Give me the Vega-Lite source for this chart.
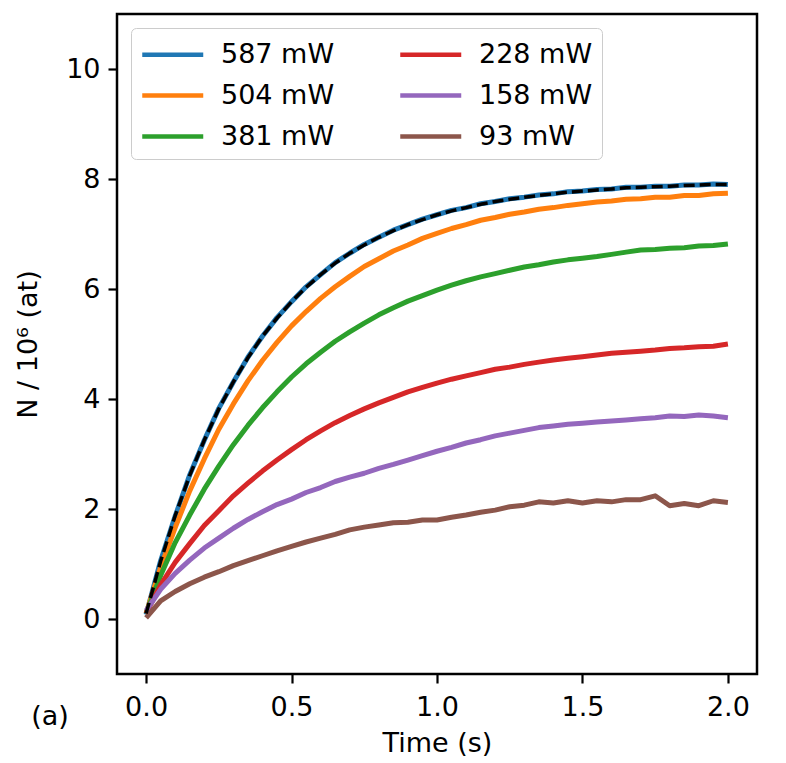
{
  "$schema": "https://vega.github.io/schema/vega-lite/v6.json",
  "width": 640,
  "height": 660,
  "autosize": {"type": "none"},
  "padding": {"left": 117, "top": 14, "right": 29, "bottom": 89},
  "background": "white",
  "config": {
    "font": "DejaVu Sans",
    "view": {"stroke": "black", "strokeWidth": 2.5},
    "axis": {
      "grid": false,
      "domain": false,
      "tickColor": "black",
      "tickWidth": 2.2,
      "tickSize": 9,
      "labelFont": "DejaVu Sans",
      "labelFontSize": 27,
      "labelColor": "black",
      "titleFont": "DejaVu Sans",
      "titleFontSize": 27,
      "titleFontWeight": "normal",
      "titleColor": "black"
    }
  },
  "datasets": {
    "curves": [
      {"t": 0.0, "587 mW": 0.08, "504 mW": 0.10, "381 mW": 0.10, "228 mW": 0.10, "158 mW": 0.15, "93 mW": 0.02, "fit": 0.10},
      {"t": 0.05, "587 mW": 1.06, "504 mW": 0.94, "381 mW": 0.79, "228 mW": 0.62, "158 mW": 0.54, "93 mW": 0.33, "fit": 1.05},
      {"t": 0.1, "587 mW": 1.87, "504 mW": 1.66, "381 mW": 1.39, "228 mW": 1.03, "158 mW": 0.83, "93 mW": 0.50, "fit": 1.88},
      {"t": 0.15, "587 mW": 2.62, "504 mW": 2.33, "381 mW": 1.89, "228 mW": 1.37, "158 mW": 1.07, "93 mW": 0.64, "fit": 2.61},
      {"t": 0.2, "587 mW": 3.25, "504 mW": 2.91, "381 mW": 2.36, "228 mW": 1.70, "158 mW": 1.29, "93 mW": 0.76, "fit": 3.25},
      {"t": 0.25, "587 mW": 3.83, "504 mW": 3.45, "381 mW": 2.78, "228 mW": 1.97, "158 mW": 1.47, "93 mW": 0.86, "fit": 3.82},
      {"t": 0.3, "587 mW": 4.31, "504 mW": 3.91, "381 mW": 3.17, "228 mW": 2.24, "158 mW": 1.65, "93 mW": 0.97, "fit": 4.31},
      {"t": 0.35, "587 mW": 4.76, "504 mW": 4.33, "381 mW": 3.52, "228 mW": 2.47, "158 mW": 1.81, "93 mW": 1.06, "fit": 4.75},
      {"t": 0.4, "587 mW": 5.14, "504 mW": 4.70, "381 mW": 3.84, "228 mW": 2.69, "158 mW": 1.95, "93 mW": 1.15, "fit": 5.14},
      {"t": 0.45, "587 mW": 5.48, "504 mW": 5.03, "381 mW": 4.13, "228 mW": 2.89, "158 mW": 2.08, "93 mW": 1.24, "fit": 5.47},
      {"t": 0.5, "587 mW": 5.77, "504 mW": 5.33, "381 mW": 4.40, "228 mW": 3.08, "158 mW": 2.18, "93 mW": 1.32, "fit": 5.77},
      {"t": 0.55, "587 mW": 6.04, "504 mW": 5.59, "381 mW": 4.64, "228 mW": 3.26, "158 mW": 2.30, "93 mW": 1.40, "fit": 6.03},
      {"t": 0.6, "587 mW": 6.26, "504 mW": 5.83, "381 mW": 4.85, "228 mW": 3.42, "158 mW": 2.39, "93 mW": 1.47, "fit": 6.26},
      {"t": 0.65, "587 mW": 6.48, "504 mW": 6.04, "381 mW": 5.05, "228 mW": 3.57, "158 mW": 2.50, "93 mW": 1.54, "fit": 6.47},
      {"t": 0.7, "587 mW": 6.65, "504 mW": 6.23, "381 mW": 5.22, "228 mW": 3.70, "158 mW": 2.58, "93 mW": 1.62, "fit": 6.65},
      {"t": 0.75, "587 mW": 6.81, "504 mW": 6.41, "381 mW": 5.38, "228 mW": 3.82, "158 mW": 2.65, "93 mW": 1.67, "fit": 6.80},
      {"t": 0.8, "587 mW": 6.94, "504 mW": 6.55, "381 mW": 5.53, "228 mW": 3.93, "158 mW": 2.74, "93 mW": 1.71, "fit": 6.94},
      {"t": 0.85, "587 mW": 7.07, "504 mW": 6.69, "381 mW": 5.66, "228 mW": 4.03, "158 mW": 2.81, "93 mW": 1.75, "fit": 7.06},
      {"t": 0.9, "587 mW": 7.17, "504 mW": 6.80, "381 mW": 5.78, "228 mW": 4.13, "158 mW": 2.89, "93 mW": 1.76, "fit": 7.17},
      {"t": 0.95, "587 mW": 7.27, "504 mW": 6.92, "381 mW": 5.88, "228 mW": 4.21, "158 mW": 2.97, "93 mW": 1.80, "fit": 7.26},
      {"t": 1.0, "587 mW": 7.35, "504 mW": 7.01, "381 mW": 5.98, "228 mW": 4.29, "158 mW": 3.05, "93 mW": 1.80, "fit": 7.35},
      {"t": 1.05, "587 mW": 7.43, "504 mW": 7.10, "381 mW": 6.07, "228 mW": 4.36, "158 mW": 3.12, "93 mW": 1.85, "fit": 7.42},
      {"t": 1.1, "587 mW": 7.48, "504 mW": 7.17, "381 mW": 6.15, "228 mW": 4.42, "158 mW": 3.20, "93 mW": 1.89, "fit": 7.48},
      {"t": 1.15, "587 mW": 7.55, "504 mW": 7.25, "381 mW": 6.22, "228 mW": 4.48, "158 mW": 3.26, "93 mW": 1.94, "fit": 7.54},
      {"t": 1.2, "587 mW": 7.59, "504 mW": 7.30, "381 mW": 6.28, "228 mW": 4.54, "158 mW": 3.33, "93 mW": 1.98, "fit": 7.59},
      {"t": 1.25, "587 mW": 7.64, "504 mW": 7.36, "381 mW": 6.34, "228 mW": 4.58, "158 mW": 3.38, "93 mW": 2.04, "fit": 7.63},
      {"t": 1.3, "587 mW": 7.67, "504 mW": 7.40, "381 mW": 6.40, "228 mW": 4.63, "158 mW": 3.43, "93 mW": 2.07, "fit": 7.67},
      {"t": 1.35, "587 mW": 7.71, "504 mW": 7.45, "381 mW": 6.44, "228 mW": 4.67, "158 mW": 3.48, "93 mW": 2.13, "fit": 7.70},
      {"t": 1.4, "587 mW": 7.73, "504 mW": 7.48, "381 mW": 6.49, "228 mW": 4.71, "158 mW": 3.51, "93 mW": 2.11, "fit": 7.73},
      {"t": 1.45, "587 mW": 7.77, "504 mW": 7.52, "381 mW": 6.53, "228 mW": 4.74, "158 mW": 3.54, "93 mW": 2.15, "fit": 7.76},
      {"t": 1.5, "587 mW": 7.78, "504 mW": 7.55, "381 mW": 6.56, "228 mW": 4.77, "158 mW": 3.56, "93 mW": 2.11, "fit": 7.78},
      {"t": 1.55, "587 mW": 7.81, "504 mW": 7.58, "381 mW": 6.59, "228 mW": 4.80, "158 mW": 3.58, "93 mW": 2.15, "fit": 7.80},
      {"t": 1.6, "587 mW": 7.82, "504 mW": 7.60, "381 mW": 6.63, "228 mW": 4.83, "158 mW": 3.60, "93 mW": 2.13, "fit": 7.82},
      {"t": 1.65, "587 mW": 7.85, "504 mW": 7.63, "381 mW": 6.67, "228 mW": 4.85, "158 mW": 3.62, "93 mW": 2.17, "fit": 7.84},
      {"t": 1.7, "587 mW": 7.85, "504 mW": 7.64, "381 mW": 6.71, "228 mW": 4.87, "158 mW": 3.64, "93 mW": 2.17, "fit": 7.85},
      {"t": 1.75, "587 mW": 7.87, "504 mW": 7.67, "381 mW": 6.72, "228 mW": 4.89, "158 mW": 3.66, "93 mW": 2.24, "fit": 7.86},
      {"t": 1.8, "587 mW": 7.87, "504 mW": 7.67, "381 mW": 6.74, "228 mW": 4.92, "158 mW": 3.69, "93 mW": 2.06, "fit": 7.87},
      {"t": 1.85, "587 mW": 7.89, "504 mW": 7.70, "381 mW": 6.75, "228 mW": 4.93, "158 mW": 3.68, "93 mW": 2.10, "fit": 7.88},
      {"t": 1.9, "587 mW": 7.89, "504 mW": 7.70, "381 mW": 6.78, "228 mW": 4.95, "158 mW": 3.71, "93 mW": 2.06, "fit": 7.89},
      {"t": 1.95, "587 mW": 7.91, "504 mW": 7.73, "381 mW": 6.79, "228 mW": 4.96, "158 mW": 3.69, "93 mW": 2.15, "fit": 7.90},
      {"t": 2.0, "587 mW": 7.90, "504 mW": 7.74, "381 mW": 6.82, "228 mW": 5.00, "158 mW": 3.66, "93 mW": 2.12, "fit": 7.90}
    ],
    "tag": [{"x": -0.33, "y": -1.93, "label": "(a)"}]
  },
  "layer": [
    {
      "data": {"name": "curves"},
      "transform": [
        {"fold": ["587 mW", "504 mW", "381 mW", "228 mW", "158 mW", "93 mW"], "as": ["power", "n"]}
      ],
      "mark": {"type": "line", "strokeWidth": 5, "strokeJoin": "round", "clip": true},
      "encoding": {
        "x": {
          "field": "t",
          "type": "quantitative",
          "scale": {"domain": [-0.1, 2.1], "nice": false, "zero": false},
          "axis": {"values": [0, 0.5, 1, 1.5, 2], "format": ".1f", "title": "Time (s)", "labelPadding": 11, "titlePadding": 10}
        },
        "y": {
          "field": "n",
          "type": "quantitative",
          "scale": {"domain": [-1, 11], "nice": false, "zero": false},
          "axis": {"values": [0, 2, 4, 6, 8, 10], "format": "d", "title": "N / 10⁶ (at)", "labelPadding": 8, "titlePadding": 23}
        },
        "color": {
          "field": "power",
          "type": "nominal",
          "scale": {
            "domain": ["587 mW", "504 mW", "381 mW", "228 mW", "158 mW", "93 mW"],
            "range": ["#1f77b4", "#ff7f0e", "#2ca02c", "#d62728", "#9467bd", "#8c564b"]
          },
          "legend": {
            "title": null,
            "orient": "none",
            "legendX": 14,
            "legendY": 14,
            "columns": 2,
            "symbolType": "M-1,0H3",
            "symbolSize": 930,
            "symbolStrokeWidth": 4.5,
            "labelFont": "DejaVu Sans",
            "labelFontSize": 27,
            "labelColor": "black",
            "labelOffset": 46,
            "labelLimit": 0,
            "columnPadding": 56,
            "rowPadding": 10,
            "padding": 9,
            "fillColor": "white",
            "strokeColor": "#cccccc",
            "cornerRadius": 5
          }
        }
      }
    },
    {
      "data": {"name": "curves"},
      "mark": {"type": "line", "color": "black", "strokeWidth": 3.5, "strokeDash": [11, 5], "clip": true},
      "encoding": {
        "x": {"field": "t", "type": "quantitative", "axis": {"title": "Time (s)"}},
        "y": {"field": "fit", "type": "quantitative", "axis": {"title": "N / 10⁶ (at)"}}
      }
    },
    {
      "data": {"name": "tag"},
      "mark": {"type": "text", "fontSize": 27, "font": "DejaVu Sans", "align": "center", "baseline": "alphabetic", "color": "black"},
      "encoding": {
        "x": {"field": "x", "type": "quantitative", "axis": {"title": "Time (s)"}},
        "y": {"field": "y", "type": "quantitative", "axis": {"title": "N / 10⁶ (at)"}},
        "text": {"field": "label"}
      }
    }
  ]
}
